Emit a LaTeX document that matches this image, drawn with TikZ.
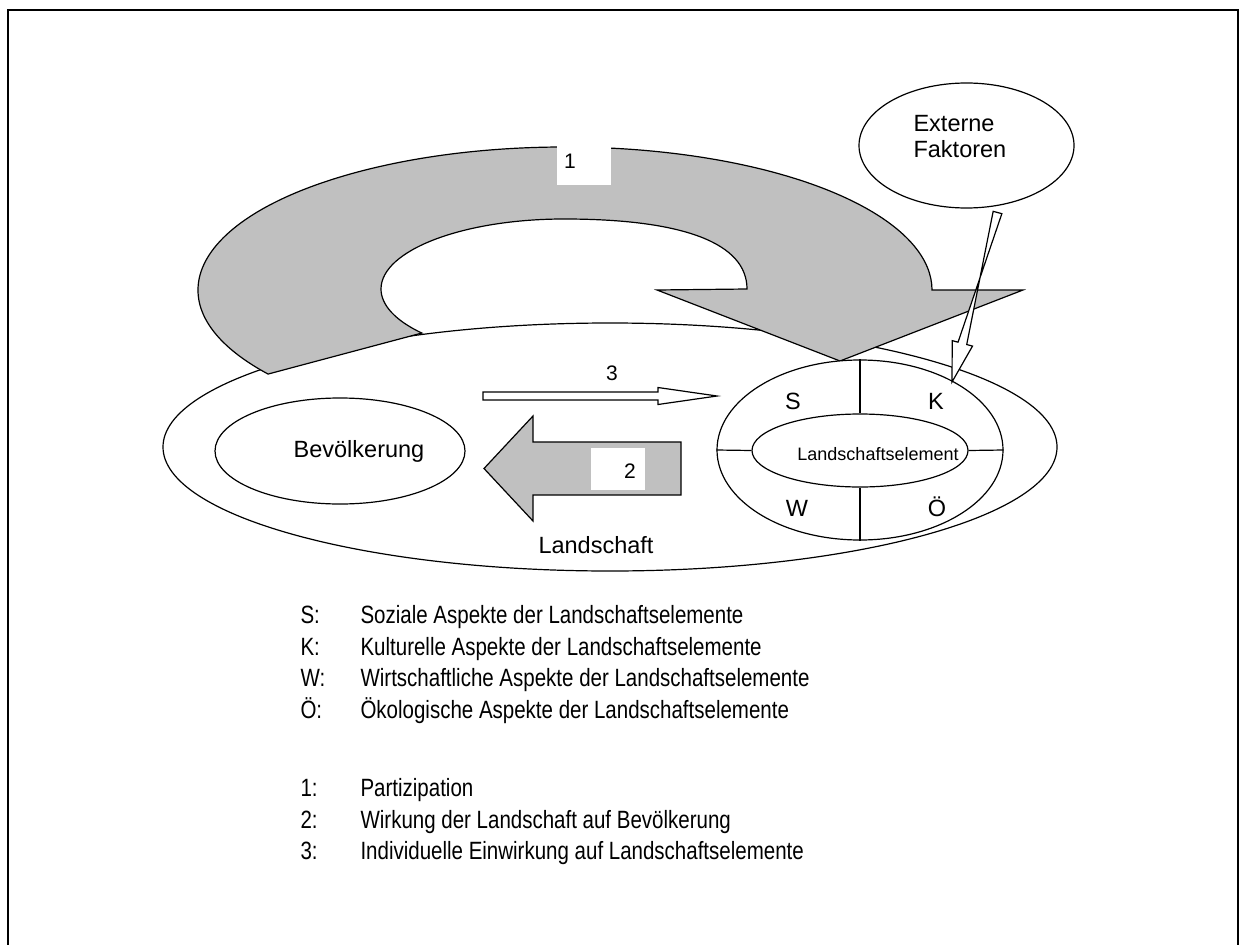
\documentclass[tikz,border=0pt]{standalone}
\usepackage{fontspec}
\setmainfont{Liberation Sans}
\newfontfamily\narrowfont[FakeStretch=0.82]{Liberation Sans}
\usetikzlibrary{calc, shapes.geometric}

\definecolor{stipple}{RGB}{192,192,192}

\tikzset{
  outline/.style={draw, line width=1.2pt, line join=miter},
  flowarrow/.style={outline, fill=stipple},
  hollowarrow/.style={outline, fill=white},
  oval/.style={outline, ellipse, fill=white, inner sep=0pt},
  numbox/.style={fill=white, inner sep=0pt, minimum width=54pt, minimum height=44pt},
  keyline/.style={anchor=base west, font=\narrowfont\fontsize{25}{31}\selectfont},
}

\begin{document}
\begin{tikzpicture}[x=1pt, y=-1pt, font=\fontsize{23.5}{26}\selectfont]
\useasboundingbox (0,0) rectangle (1246,944);
\draw[line width=2.5pt] (8,960) -- (8,10) -- (1238,10) -- (1238,960);

% Landschaft
\draw[outline] (610,447) ellipse [x radius=447, y radius=124];

% 1: Partizipation
\draw[flowarrow] (565,290) ++(144:367 and 143)
  arc[start angle=144, end angle=360, x radius=367, y radius=143]
  -- (1023,290) -- (840,361) -- (657,290) -- (747,289)
  .. controls (747,243) and (683,219) .. (564,219)
  arc[start angle=270, end angle=141, x radius=183, y radius=70] -- cycle;
\node[numbox, minimum height=50pt] (box1) at (584,160) {};
\node[anchor=base, font=\fontsize{21}{24}\selectfont] (num1) at (570,168) {1};

\node[oval, minimum width=250pt, minimum height=106pt] (bev) at (340,451) {};
\node (bevtext) at ([xshift=19pt]bev.center) {Bevölkerung};

% 3: Einwirkung
\draw[hollowarrow] (483,392) -- (658,392) -- (658,387.5) -- (717,396)
  -- (658,404.5) -- (658,400) -- (483,400) -- cycle;
\node[anchor=base, font=\fontsize{21}{24}\selectfont] (num3) at (612,380) {3};

% 2: Wirkung
\draw[flowarrow] (681,442) -- (533,442) -- (533,416) -- (484,468.5)
  -- (533,521) -- (533,495) -- (681,495) -- cycle;
\node[numbox, minimum height=42pt] (box2) at (618,469) {};
\node[anchor=base, font=\fontsize{21}{24}\selectfont] (num2) at (630,478) {2};

% Landschaftselement
\node[oval, minimum width=286pt, minimum height=180pt] (ring) at (860,450) {};
\node[oval, minimum width=216pt, minimum height=73pt] (elem) at (860,450.5) {};
\node[font=\fontsize{18}{22}\selectfont] (elemtext) at ([xshift=18pt, yshift=-3.5pt]elem.center) {Landschaftselement};
\draw[outline] (ring.north) -- (elem.north);
\draw[outline] (ring.south) -- (elem.south);
\draw[outline] (ring.west) -- (elem.west);
\draw[outline] (ring.east) -- (elem.east);
\node[anchor=base] (aspS) at (793,409) {S};
\node[anchor=base] (aspK) at (936,409) {K};
\node[anchor=base] (aspW) at (797,516) {W};
\node[anchor=base] (aspO) at (937,516) {Ö};

% Externe Faktoren
\node[oval, minimum width=215pt, minimum height=125pt] (ext) at (966.5,145.5) {};
\node[anchor=base west] (exttext1) at (910,132) {Externe};
\node[anchor=base west] (exttext2) at (910,158) {Faktoren};
\coordinate (ftail) at (997.5,212.5);
\coordinate (ftip) at (952,382);
\coordinate (fneck) at ($(ftip)!40pt!(ftail)$);
\draw[hollowarrow] ($(ftail)!4.5pt!90:(ftip)$) -- ($(fneck)!4.5pt!-90:(ftip)$)
  -- ($(fneck)!10.5pt!-90:(ftip)$) -- (ftip) -- ($(fneck)!10.5pt!90:(ftip)$)
  -- ($(fneck)!4.5pt!90:(ftip)$) -- ($(ftail)!4.5pt!-90:(ftip)$) -- cycle;

\node[anchor=base] (landtext) at (596,553) {Landschaft};

% Legende
\node[keyline] (keyS) at (297,623) {S:};
\node[keyline] (keyK) at (297,655) {K:};
\node[keyline] (keyW) at (297,686) {W:};
\node[keyline] (keyO) at (297,718) {Ö:};
\node[keyline] (key1) at (297,796) {1:};
\node[keyline] (key2) at (297,828) {2:};
\node[keyline] (key3) at (297,859) {3:};
\node[keyline] (descS) at (357,623) {Soziale Aspekte der Landschaftselemente};
\node[keyline] (descK) at (357,655) {Kulturelle Aspekte der Landschaftselemente};
\node[keyline] (descW) at (357,686) {Wirtschaftliche Aspekte der Landschaftselemente};
\node[keyline] (descO) at (357,718) {Ökologische Aspekte der Landschaftselemente};
\node[keyline] (desc1) at (357,796) {Partizipation};
\node[keyline] (desc2) at (357,828) {Wirkung der Landschaft auf Bevölkerung};
\node[keyline] (desc3) at (357,859) {Individuelle Einwirkung auf Landschaftselemente};
\end{tikzpicture}
\end{document}
